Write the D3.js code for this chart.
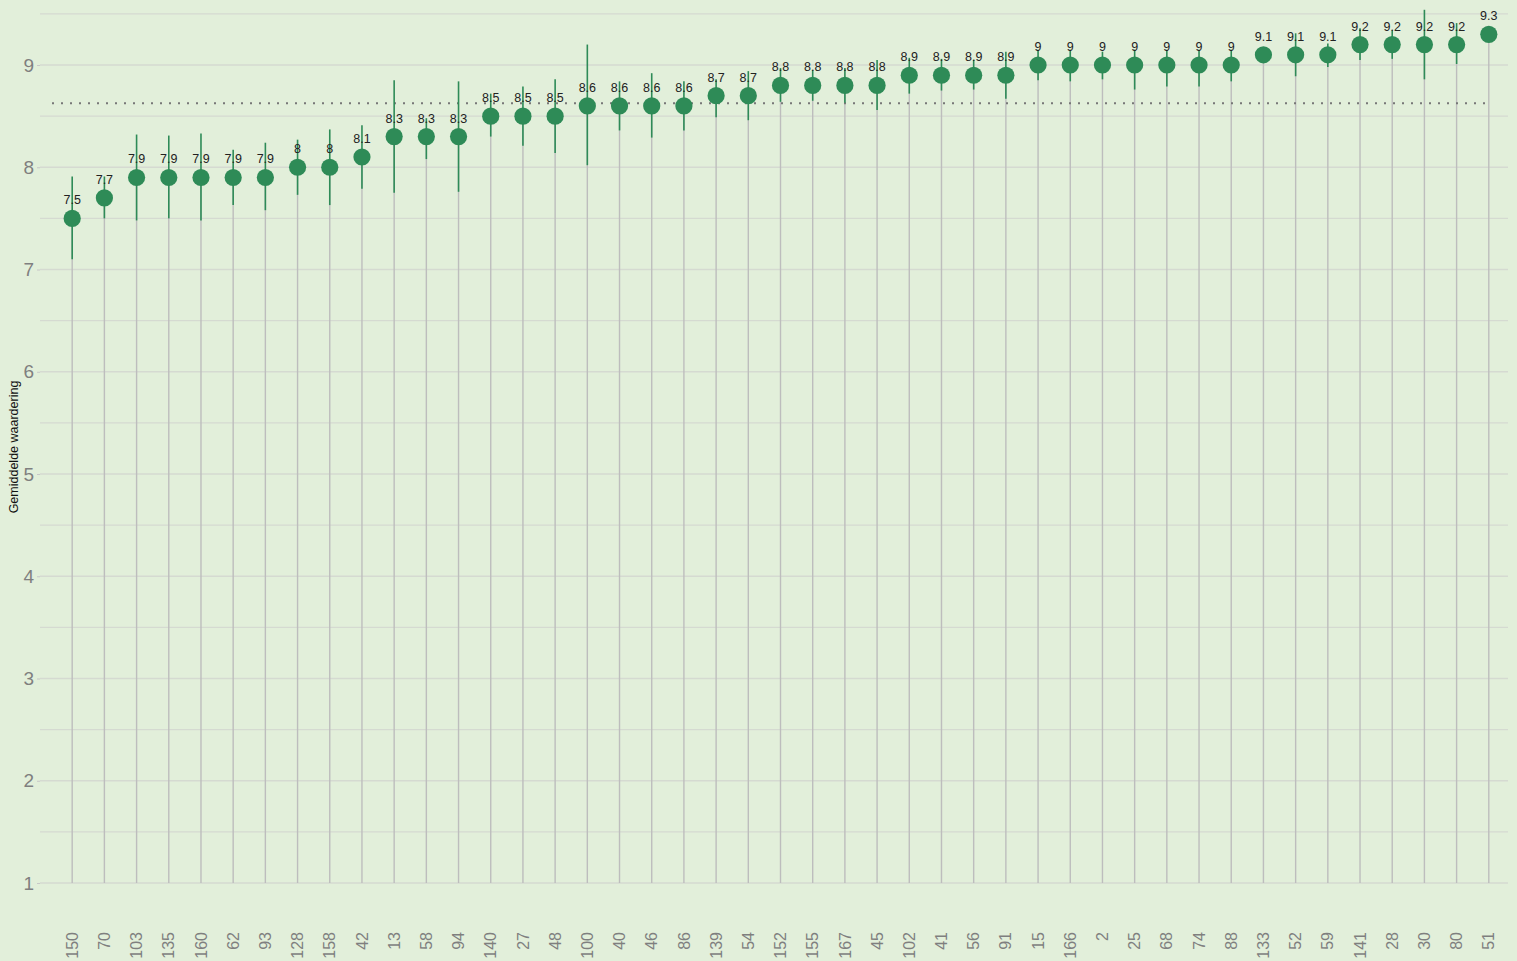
<!DOCTYPE html>
<html>
<head>
<meta charset="utf-8">
<script src="https://cdn.jsdelivr.net/npm/d3@7"></script>
<style>
  html, body { margin: 0; padding: 0; background: #e2efda; }
  svg { display: block; font-family: "Liberation Sans", Arial, sans-serif; }
</style>
</head>
<body>
<div id="chart"></div>
<script>
// categories (respondent / item ids), in the order shown
var categories = ["150","70","103","135","160","62","93","128","158","42","13","58","94","140","27","48","100","40","46","86","139","54","152","155","167","45","102","41","56","91","15","166","2","25","68","74","88","133","52","59","141","28","30","80","51"];

// mean score per category
var values = [7.5,7.7,7.9,7.9,7.9,7.9,7.9,8,8,8.1,8.3,8.3,8.3,8.5,8.5,8.5,8.6,8.6,8.6,8.6,8.7,8.7,8.8,8.8,8.8,8.8,8.9,8.9,8.9,8.9,9,9,9,9,9,9,9,9.1,9.1,9.1,9.2,9.2,9.2,9.2,9.3];

// error bar ends
var lows  = [7.10,7.50,7.48,7.50,7.48,7.63,7.58,7.73,7.63,7.79,7.75,8.08,7.76,8.30,8.21,8.14,8.02,8.36,8.29,8.36,8.49,8.46,8.64,8.65,8.63,8.56,8.72,8.75,8.76,8.67,8.85,8.84,8.86,8.76,8.79,8.79,8.84,9.04,8.89,8.98,9.05,9.06,8.86,9.01,9.25];
var highs = [7.91,7.91,8.32,8.31,8.33,8.17,8.24,8.27,8.37,8.41,8.85,8.48,8.84,8.72,8.79,8.86,9.20,8.84,8.92,8.84,8.86,8.94,8.97,8.95,8.97,9.05,9.07,9.06,9.05,9.13,9.15,9.15,9.13,9.15,9.15,9.15,9.15,9.16,9.31,9.21,9.36,9.34,9.54,9.41,9.35];

var yTicks = [1,2,3,4,5,6,7,8,9];
var yGrid = [1,1.5,2,2.5,3,3.5,4,4.5,5,5.5,6,6.5,7,7.5,8,8.5,9,9.5];

var W = 1517, H = 961;
var panel = {left: 40, right: 1508, bottom: 883, top: 65};
var green = "#2e8b57";

var data = categories.map(function(c, i) {
    return {cat: c, value: values[i], lo: lows[i], hi: highs[i]};
});

var svg = d3.select("#chart").append("svg")
    .attr("width", W)
    .attr("height", H);

svg.append("rect")
    .attr("width", W).attr("height", H)
    .attr("fill", "#e2efda");

var x = d3.scalePoint()
    .domain(categories)
    .range([panel.left, 1521])
    .padding(1);

var y = d3.scaleLinear()
    .domain([1, 9])
    .range([panel.bottom, panel.top]);

// grid
svg.append("g").selectAll("line")
    .data(yGrid)
    .enter().append("line")
    .attr("x1", panel.left)
    .attr("x2", panel.right)
    .attr("y1", function(d) { return y(d); })
    .attr("y2", function(d) { return y(d); })
    .style("stroke", "#d5dad1")
    .style("stroke-width", 1.3);

// y axis
var yAxis = svg.append("g")
    .attr("transform", "translate(" + panel.left + ",0)")
    .call(d3.axisLeft(y).tickValues(yTicks).tickSize(3).tickPadding(3).tickFormat(d3.format("d")));
yAxis.select(".domain").remove();
yAxis.selectAll(".tick line").style("stroke", "#c8c8c8");
yAxis.selectAll(".tick text")
    .style("font-size", "19px")
    .style("fill", "#7f7f7f");

svg.append("text")
    .text("Gemiddelde waardering")
    .attr("transform", "translate(18,447) rotate(-90)")
    .attr("text-anchor", "middle")
    .style("font-size", "12.5px")
    .style("fill", "#111");

// x labels
svg.append("g").selectAll("text")
    .data(categories)
    .enter().append("text")
    .text(function(d) { return d; })
    .attr("transform", function(d) { return "translate(" + x(d) + ",932) rotate(-90)"; })
    .attr("text-anchor", "end")
    .attr("dy", "0.35em")
    .style("font-size", "16px")
    .style("fill", "#7f7f7f");

// lollipop stems
svg.append("g").selectAll("line")
    .data(data)
    .enter().append("line")
    .attr("x1", function(d) { return x(d.cat); })
    .attr("x2", function(d) { return x(d.cat); })
    .attr("y1", y(1))
    .attr("y2", function(d) { return y(d.value); })
    .style("stroke", "#bdbdbd")
    .style("stroke-width", 1.4);

// mean line
var mean = d3.mean(values);
svg.append("line")
    .attr("x1", panel.left + 12)
    .attr("x2", 1487)
    .attr("y1", y(mean))
    .attr("y2", y(mean))
    .style("stroke", "#777")
    .style("stroke-width", 2)
    .style("stroke-dasharray", "2,7");

// error bars
svg.append("g").selectAll("line")
    .data(data)
    .enter().append("line")
    .attr("x1", function(d) { return x(d.cat); })
    .attr("x2", function(d) { return x(d.cat); })
    .attr("y1", function(d) { return y(d.lo); })
    .attr("y2", function(d) { return y(d.hi); })
    .style("stroke", green)
    .style("stroke-width", 1.6);

// points
svg.append("g").selectAll("circle")
    .data(data)
    .enter().append("circle")
    .attr("cx", function(d) { return x(d.cat); })
    .attr("cy", function(d) { return y(d.value); })
    .attr("r", 8.6)
    .attr("fill", green);

// value labels
svg.append("g").selectAll("text")
    .data(data)
    .enter().append("text")
    .text(function(d) { return d.value; })
    .attr("x", function(d) { return x(d.cat); })
    .attr("y", function(d) { return y(d.value) - 14; })
    .attr("text-anchor", "middle")
    .style("font-size", "12.5px")
    .style("fill", "#222");
</script>
</body>
</html>
